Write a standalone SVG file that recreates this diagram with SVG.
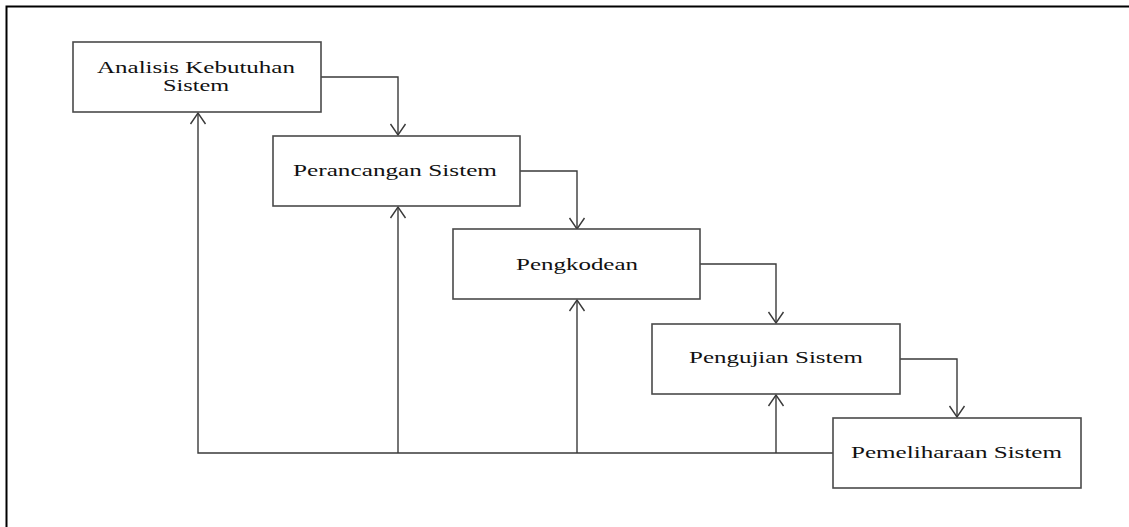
<svg xmlns="http://www.w3.org/2000/svg" width="1129" height="527" viewBox="0 0 1129 527">
<style>
.box{fill:#fff;stroke:#4a4a4a;stroke-width:1.6}
.lbl{font-family:"Liberation Serif","Times New Roman",serif;font-size:17px;fill:#111}
.ln{fill:none;stroke:#3a3a3a;stroke-width:1.4}
.ah{fill:none;stroke:#3a3a3a;stroke-width:1.4}
</style>
<rect width="1129" height="527" fill="#fff"/>
<path d="M6.5,527 V6.5 H1129" fill="none" stroke="#000" stroke-width="2"/>
<g id="connectors">
<path class="ln" d="M321,77 H398 V135"/>
<path class="ah" d="M390.5,124 L398,135 L405.5,124"/>
<path class="ln" d="M520,171 H577 V229"/>
<path class="ah" d="M569.5,218 L577,229 L584.5,218"/>
<path class="ln" d="M700,264 H776 V323"/>
<path class="ah" d="M768.5,312 L776,323 L783.5,312"/>
<path class="ln" d="M900,359 H957 V417"/>
<path class="ah" d="M949.5,406 L957,417 L964.5,406"/>
<path class="ln" d="M833,453 H198 V113"/>
<path class="ah" d="M190.5,124 L198,113 L205.5,124"/>
<path class="ln" d="M398,453 V207"/>
<path class="ah" d="M390.5,218 L398,207 L405.5,218"/>
<path class="ln" d="M577,453 V300"/>
<path class="ah" d="M569.5,311 L577,300 L584.5,311"/>
<path class="ln" d="M776,453 V395"/>
<path class="ah" d="M768.5,406 L776,395 L783.5,406"/>
</g>
<g id="node1">
<rect class="box" x="73" y="42" width="248" height="70"/>
<text class="lbl" x="97" y="73" textLength="198" lengthAdjust="spacingAndGlyphs">Analisis Kebutuhan</text>
<text class="lbl" x="163" y="91" textLength="66" lengthAdjust="spacingAndGlyphs">Sistem</text>
</g>
<g id="node2">
<rect class="box" x="273" y="136" width="247" height="70"/>
<text class="lbl" x="293" y="176" textLength="204" lengthAdjust="spacingAndGlyphs">Perancangan Sistem</text>
</g>
<g id="node3">
<rect class="box" x="453" y="229" width="247" height="70"/>
<text class="lbl" x="516" y="270" textLength="122" lengthAdjust="spacingAndGlyphs">Pengkodean</text>
</g>
<g id="node4">
<rect class="box" x="652" y="324" width="248" height="70"/>
<text class="lbl" x="689" y="363" textLength="174" lengthAdjust="spacingAndGlyphs">Pengujian Sistem</text>
</g>
<g id="node5">
<rect class="box" x="833" y="418" width="248" height="70"/>
<text class="lbl" x="851" y="458" textLength="211" lengthAdjust="spacingAndGlyphs">Pemeliharaan Sistem</text>
</g>
</svg>
